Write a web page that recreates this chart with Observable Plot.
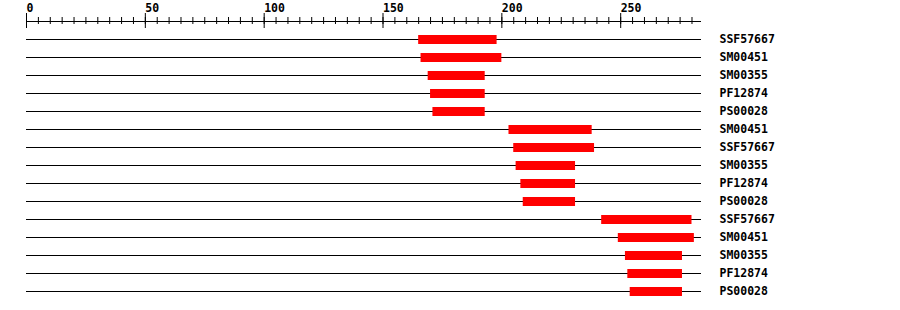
<!DOCTYPE html>
<html>
<head>
<meta charset="utf-8">
<script src="https://cdn.jsdelivr.net/npm/d3@7"></script>
<script src="https://cdn.jsdelivr.net/npm/@observablehq/plot@0.6"></script>
<style>
  html, body { margin: 0; padding: 0; background: #fff; }
  #chart svg { display: block; }
</style>
</head>
<body>
<div id="chart"></div>
<script>
// Data
const proteinLength = 284;
const domainLabels = ["SSF57667","SM00451","SM00355","PF12874","PS00028",
                      "SM00451","SSF57667","SM00355","PF12874","PS00028",
                      "SSF57667","SM00451","SM00355","PF12874","PS00028"];
const domainStarts = [165,166,169,170,171, 203,205,206,208,209, 242,249,252,253,254];
const domainEnds   = [198,200,193,193,193, 238,239,231,231,231, 280,281,276,276,276];
const majorTicks = [0,50,100,150,200,250];
const minorTicks = d3.range(0, 281, 5);

const rows = domainLabels.map((label, i) => ({row: i, label, start: domainStarts[i], end: domainEnds[i]}));
const axisRow = -1;
const font = "DejaVu Sans Mono";

const chart = Plot.plot({
  width: 900,
  height: 310,
  marginTop: 0, marginBottom: 0, marginLeft: 0, marginRight: 0,
  style: {background: "#fff", fontFamily: font},
  x: {domain: [0, proteinLength], range: [26, 701], axis: null},
  y: {domain: [0, rows.length - 1], range: [39, 291], axis: null},
  marks: [
    // axis line
    Plot.ruleY([axisRow], {x1: 0, x2: proteinLength, stroke: "#000"}),
    // minor ticks
    Plot.ruleX(minorTicks, {x: d => d, y1: axisRow, y2: axisRow, insetTop: -4, insetBottom: -3, stroke: "#000"}),
    // major ticks
    Plot.ruleX(majorTicks, {x: d => d, y1: axisRow, y2: axisRow, insetTop: -8, insetBottom: -7, stroke: "#000"}),
    // tick labels
    Plot.text(majorTicks, {x: d => d, y: axisRow, text: d => String(d), textAnchor: "start", dy: -13,
      fontSize: 11.5, fontWeight: "bold", fill: "#000"}),
    // protein lines
    Plot.ruleY(rows, {y: "row", x1: 0, x2: proteinLength, stroke: "#000"}),
    // domains
    Plot.ruleY(rows, {y: "row", x1: "start", x2: "end", stroke: "#ff0000", strokeWidth: 9}),
    // labels
    Plot.text(rows, {x: proteinLength, y: "row", text: "label", textAnchor: "start", dx: 18,
      fontSize: 11.5, fontWeight: "bold", fill: "#000"})
  ]
});
document.getElementById("chart").append(chart);
</script>
</body>
</html>
